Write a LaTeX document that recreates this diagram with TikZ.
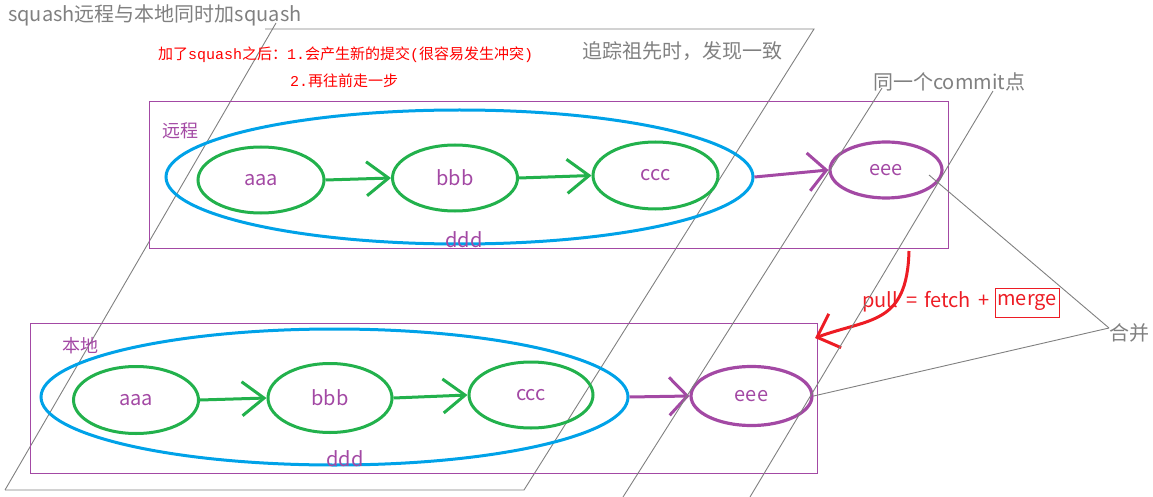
\documentclass[tikz,border=0pt]{standalone}
\usepackage{fontspec}
\newfontfamily\cjk{Noto Sans CJK SC}
\newfontfamily\monof{Liberation Mono}
\usetikzlibrary{arrows.meta,shapes.geometric}
\definecolor{pcol}{RGB}{163,73,164}
\definecolor{gcol}{RGB}{34,177,76}
\definecolor{bcol}{RGB}{0,162,232}
\definecolor{rcol}{RGB}{237,28,36}
\definecolor{tred}{RGB}{255,0,0}
\definecolor{grcol}{RGB}{128,128,128}
\tikzset{
  lbl/.style={inner sep=0pt, font=\cjk\fontsize{20}{24}\selectfont},
  graytxt/.style={lbl, text=grcol},
  commitnode/.style={ellipse, draw=gcol, line width=3pt, inner sep=0pt, text=pcol, font=\cjk\fontsize{20}{24}\selectfont},
  eeenode/.style={ellipse, draw=pcol, line width=3.2pt, inner sep=0pt, text=pcol, font=\cjk\fontsize{20}{24}\selectfont},
  groupnode/.style={ellipse, draw=bcol, line width=3pt, inner sep=0pt},
  areabox/.style={rectangle, draw=pcol, line width=1pt, inner sep=0pt},
  greenarrow/.style={draw=gcol, line width=3pt, -{Straight Barb[length=22pt,width=34pt]}},
  purplearrow/.style={draw=pcol, line width=3pt, -{Straight Barb[length=18pt,width=38pt]}},
  redarrow/.style={draw=rcol, line width=3pt, -{Straight Barb[length=19pt,width=36pt]}},
  gline/.style={draw=grcol, line width=0.9pt},
  purpletxt/.style={inner sep=0pt, text=pcol, font=\cjk\fontsize{18}{22}\selectfont},
  redtxt/.style={inner sep=0pt, text=tred, font=\cjk\fontsize{15}{18}\selectfont},
}
\begin{document}
\begin{tikzpicture}[x=1pt,y=-1pt]
\useasboundingbox (0,0) rectangle (1153,497);
% big parallelogram
\draw[gline] (276,23) -- (5,490);
\draw[gline] (265,29) -- (814,29) -- (524,490) -- (5,490);
% texts on top
\node[graytxt, anchor=west] (title) at (8,15) {squash远程与本地同时加squash};
\node[redtxt, anchor=west] (note1) at (158,55) {加了{\monof squash}之后：{\monof 1.}会产生新的提交{\monof (}很容易发生冲突{\monof )}};
\node[redtxt, anchor=west] (note2) at (290,81) {{\monof 2.}再往前走一步};
\node[graytxt, anchor=west] (trace) at (582,51.5) {追踪祖先时，发现一致};
\node[graytxt, anchor=west] (commitlbl) at (873,81.5) {同一个commit点};
% remote area
\node[areabox, minimum width=799pt, minimum height=146pt] (rbox) at (548.5,175) {};
\node[purpletxt] (rlabel) at (180,131) {远程};
\node[groupnode, minimum width=587pt, minimum height=134pt] (rgroup) at (459.5,177) {};
\node[commitnode, minimum width=126pt, minimum height=66pt] (ra) at (261,180) {aaa};
\node[commitnode, minimum width=125pt, minimum height=66pt] (rb) at (455,178) {bbb};
\node[commitnode, minimum width=125pt, minimum height=67pt] (rc) at (655.5,175.5) {ccc};
\node[eeenode, minimum width=112pt, minimum height=56pt] (re) at (886,170) {eee};
\node[lbl, text=pcol] (rddd) at (464,240) {ddd};
\draw[greenarrow] (ra.east) -- (rb.west);
\draw[greenarrow] (rb.east) -- (rc.west);
\draw[purplearrow] (rgroup.east) -- (re.west);
% local area
\node[areabox, minimum width=787pt, minimum height=150pt] (lbox) at (423.5,398) {};
\node[purpletxt] (llabel) at (80,346) {本地};
\node[groupnode, minimum width=587pt, minimum height=136pt] (lgroup) at (334.5,397) {};
\node[commitnode, minimum width=125pt, minimum height=67pt] (la) at (136,400) {aaa};
\node[commitnode, minimum width=124pt, minimum height=69pt] (lb) at (330,398) {bbb};
\node[commitnode, minimum width=124pt, minimum height=66pt] (lc) at (531,395) {ccc};
\node[eeenode, minimum width=121pt, minimum height=59pt] (le) at (751.5,396) {eee};
\node[lbl, text=pcol] (lddd) at (345,459) {ddd};
\draw[greenarrow] (la.east) -- (lb.west);
\draw[greenarrow] (lb.east) -- (lc.west);
\draw[purplearrow] (lgroup.east) -- (le.west);
% pull arrow and label
\coordinate (pullstart) at (909,251);
\coordinate (pullend) at (815,338);
\draw[redarrow] (pullstart) .. controls (907,325) and (870,318) .. (pullend);
\node[lbl, text=rcol, anchor=west] (pulltxt) at (862,302) {pull\hspace{8pt}=\hspace{7pt}fetch\hspace{8pt}+};
\node[lbl, text=rcol, draw=rcol, line width=1pt, minimum width=64pt, minimum height=29pt] (merge) at (1027,302.5) {merge};
% merge leaders
\node[graytxt, anchor=west] (hebing) at (1109,333) {合并};
\coordinate (reinner) at (929,175);
\draw[gline] ([yshift=5pt]hebing.west) -- (reinner);
\draw[gline] ([yshift=5pt]hebing.west) -- (le.east);
% commit leaders
\coordinate (c1top) at (882,88);
\coordinate (c1bot) at (623,497);
\coordinate (c2top) at (993,91);
\coordinate (c2bot) at (750,497);
\draw[gline] (c1top) -- (c1bot);
\draw[gline] (c2top) -- (c2bot);
\end{tikzpicture}
\end{document}
